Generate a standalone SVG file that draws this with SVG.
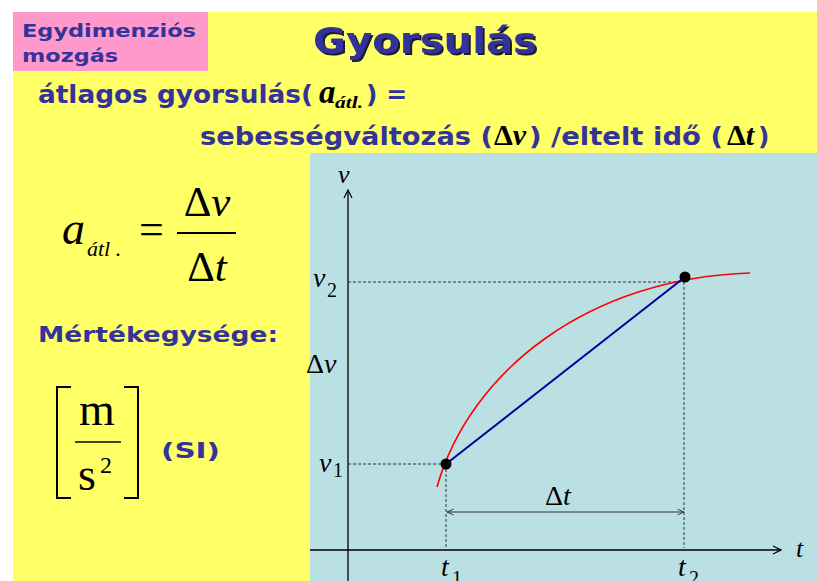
<svg xmlns="http://www.w3.org/2000/svg" width="817" height="581" viewBox="0 0 817 581">
<defs>
<style>
.sans{font-family:"DejaVu Sans","Verdana","Liberation Sans",sans-serif;font-weight:bold;fill:#333399}
.serif{font-family:"Liberation Serif","Times New Roman",serif;fill:#000}
.it{font-style:italic}
.dash{stroke:#333;stroke-width:1;stroke-dasharray:3,2;fill:none}
.axis{stroke:#000;stroke-width:1.3;fill:none}
</style>
<filter id="shadow" x="-5%" y="-20%" width="115%" height="150%">
<feOffset in="SourceAlpha" dx="2" dy="2" result="off"/>
<feFlood flood-color="#1a1a33"/>
<feComposite in2="off" operator="in" result="sh"/>
<feMerge><feMergeNode in="sh"/><feMergeNode in="SourceGraphic"/></feMerge>
</filter>
<marker id="open" viewBox="0 0 10 10" refX="9" refY="5" markerWidth="10" markerHeight="10" markerUnits="userSpaceOnUse" orient="auto-start-reverse">
<path d="M1,1 L9,5 L1,9" fill="none" stroke="#000" stroke-width="1.2"/>
</marker>
<marker id="small" viewBox="0 0 10 10" refX="9" refY="5" markerWidth="8" markerHeight="8" markerUnits="userSpaceOnUse" orient="auto-start-reverse">
<path d="M1,1.5 L9,5 L1,8.5" fill="none" stroke="#333" stroke-width="1.2"/>
</marker>
</defs>
<rect width="817" height="581" fill="#fff"/>
<rect x="13" y="12" width="804" height="569" fill="#FFFF66"/>
<rect x="13" y="12" width="195" height="59" fill="#FF99CC"/>
<rect x="310" y="153" width="507" height="428" fill="#BBE0E3"/>

<g id="header">
<text class="sans" x="22" y="37" font-size="18" textLength="174" lengthAdjust="spacingAndGlyphs">Egydimenziós</text>
<text class="sans" x="22" y="62" font-size="18" textLength="96" lengthAdjust="spacingAndGlyphs">mozgás</text>
</g>
<g id="title">
<text class="sans" x="313" y="53" font-size="36" textLength="224" lengthAdjust="spacingAndGlyphs" filter="url(#shadow)">Gyorsulás</text>
</g>
<g id="definition">
<text class="sans" x="38" y="103" font-size="25" textLength="275" lengthAdjust="spacingAndGlyphs">átlagos gyorsulás(</text>
<text class="serif it" x="319" y="103" font-size="33" font-weight="bold">a</text>
<text class="serif it" x="335" y="108" font-size="17" font-weight="bold" textLength="28" lengthAdjust="spacingAndGlyphs">átl.</text>
<text class="sans" x="366" y="103" font-size="25">) =</text>
<text class="sans" x="200" y="145" font-size="25" textLength="293" lengthAdjust="spacingAndGlyphs">sebességváltozás (</text>
<text class="serif" x="494" y="145" font-size="30" font-weight="bold">Δ<tspan class="it">v</tspan></text>
<text class="sans" x="529" y="145" font-size="25" textLength="194" lengthAdjust="spacingAndGlyphs">) /eltelt idő (</text>
<text class="serif" x="727" y="145" font-size="30" font-weight="bold">Δ<tspan class="it">t</tspan></text>
<text class="sans" x="758" y="145" font-size="25">)</text>
</g>
<g id="formula">
<text class="serif it" x="62" y="244" font-size="46">a</text>
<text class="serif it" x="87" y="256" font-size="22">átl .</text>
<text class="serif" x="139" y="244" font-size="44">=</text>
<line x1="177" y1="233" x2="236" y2="233" stroke="#000" stroke-width="2"/>
<text class="serif" x="207" y="216" font-size="43" text-anchor="middle">Δ<tspan class="it">v</tspan></text>
<text class="serif" x="207" y="281" font-size="43" text-anchor="middle">Δ<tspan class="it">t</tspan></text>
</g>
<g id="unit-label">
<text class="sans" x="38" y="342" font-size="22" textLength="240" lengthAdjust="spacingAndGlyphs">Mértékegysége:</text>
</g>
<g id="unit">
<path d="M71,387 H57 V498 H71 M124,387 H138 V498 H124" fill="none" stroke="#000" stroke-width="2"/>
<text class="serif" x="97" y="425" font-size="46" text-anchor="middle">m</text>
<line x1="75" y1="442" x2="121" y2="442" stroke="#000" stroke-width="1.5"/>
<text class="serif" x="78" y="490" font-size="46">s</text>
<text class="serif" x="100" y="473" font-size="24">2</text>
<text class="sans" x="161" y="458" font-size="22" textLength="59" lengthAdjust="spacingAndGlyphs">(SI)</text>
</g>

<g id="connectors">
<line class="axis" x1="348" y1="581" x2="348" y2="190" marker-end="url(#open)"/>
<line class="axis" x1="310" y1="550" x2="781" y2="550" marker-end="url(#open)"/>
<path class="dash" d="M348,282 H684 M684,282 V548 M348,464 H446 M446,464 V548"/>
<line x1="447" y1="512" x2="684" y2="512" stroke="#333" stroke-width="1" marker-start="url(#small)" marker-end="url(#small)"/>
<path d="M437,487 C470,370 590,278 750,273" fill="none" stroke="#FF0000" stroke-width="1.6"/>
<line x1="446" y1="464" x2="685" y2="277" stroke="#000099" stroke-width="2"/>
</g>
<g id="point-1"><circle cx="446" cy="464" r="5.5" fill="#000"/></g>
<g id="point-2"><circle cx="685" cy="277" r="5.5" fill="#000"/></g>

<g id="graph-labels">
<text class="serif it" x="338" y="183" font-size="26">v</text>
<text class="serif it" x="313" y="287" font-size="28">v</text>
<text class="serif" x="327" y="297" font-size="20">2</text>
<text class="serif" x="306" y="373" font-size="28">Δ<tspan class="it">v</tspan></text>
<text class="serif it" x="319" y="472" font-size="28">v</text>
<text class="serif" x="333" y="477" font-size="20">1</text>
<text class="serif" x="545" y="505" font-size="28">Δ<tspan class="it">t</tspan></text>
<text class="serif it" x="441" y="576" font-size="28">t</text>
<text class="serif" x="452" y="585" font-size="20">1</text>
<text class="serif it" x="678" y="576" font-size="28">t</text>
<text class="serif" x="689" y="585" font-size="20">2</text>
<text class="serif it" x="796" y="557" font-size="26">t</text>
</g>
</svg>
